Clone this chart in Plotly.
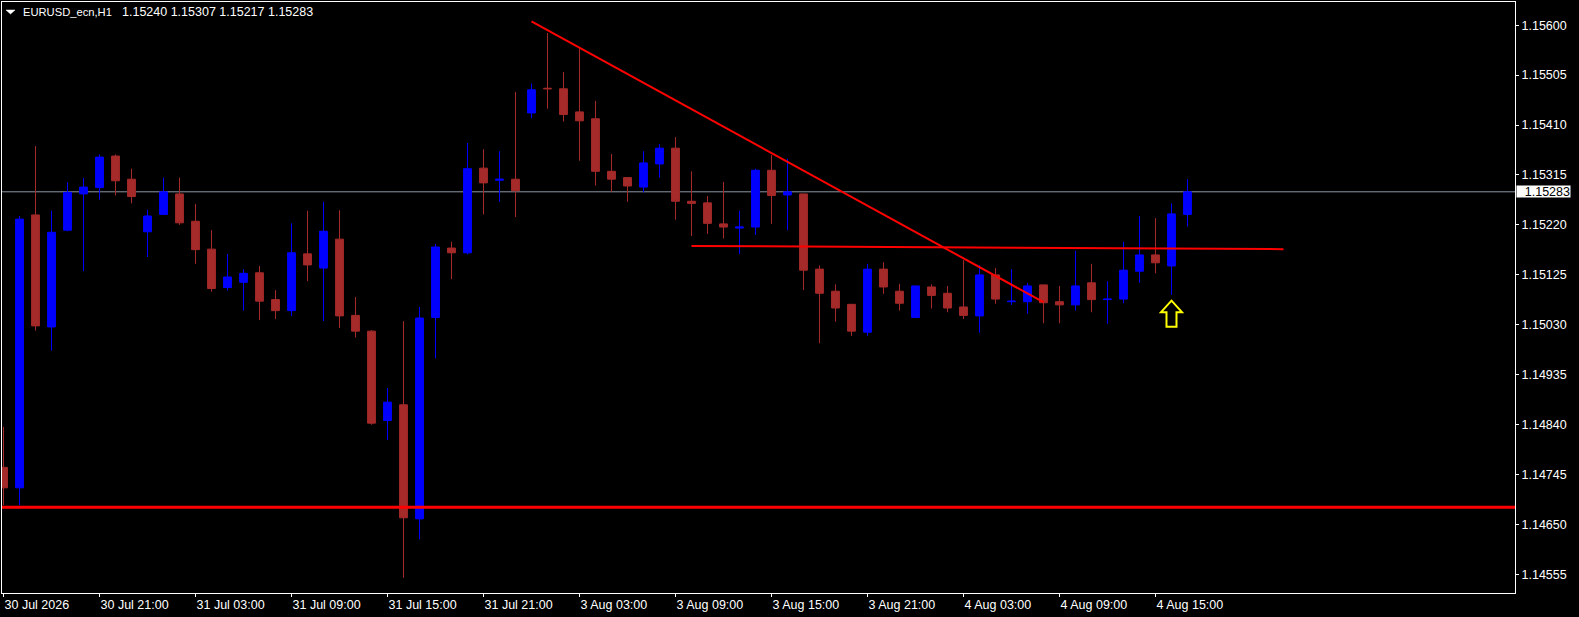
import plotly.graph_objects as go

# ---- data (EURUSD_ecn, H1) ----
opens = [1.14759, 1.14720, 1.15239, 1.15026, 1.15210, 1.15279, 1.15291, 1.15351, 1.15307, 1.15207,
         1.15240, 1.15279, 1.15227, 1.15174, 1.15101, 1.15111, 1.15129, 1.15078, 1.15057, 1.15165,
         1.15138, 1.15193, 1.15048, 1.15018, 1.14848, 1.14878, 1.14661, 1.15044, 1.15176, 1.15167,
         1.15328, 1.15305, 1.15307, 1.15433, 1.15480, 1.15479, 1.15435, 1.15422, 1.15322, 1.15310,
         1.15292, 1.15336, 1.15366, 1.15265, 1.15262, 1.15222, 1.15214, 1.15216, 1.15324, 1.15277,
         1.15279, 1.15136, 1.15094, 1.15069, 1.15016, 1.15136, 1.15094, 1.15044, 1.15102, 1.15090,
         1.15064, 1.15047, 1.15125, 1.15074, 1.15074, 1.15106, 1.15074, 1.15068, 1.15110, 1.15078,
         1.15079, 1.15132, 1.15163, 1.15142, 1.15240]
highs = [1.14836, 1.15237, 1.15370, 1.15247, 1.15301, 1.15309, 1.15354, 1.15354, 1.15327, 1.15249,
         1.15310, 1.15310, 1.15260, 1.15210, 1.15165, 1.15136, 1.15142, 1.15096, 1.15223, 1.15247,
         1.15264, 1.15248, 1.15083, 1.15020, 1.14910, 1.15037, 1.15064, 1.15184, 1.15188, 1.15376,
         1.15364, 1.15360, 1.15473, 1.15489, 1.15585, 1.15511, 1.15557, 1.15456, 1.15355, 1.15311,
         1.15360, 1.15374, 1.15387, 1.15322, 1.15275, 1.15302, 1.15247, 1.15327, 1.15353, 1.15346,
         1.15279, 1.15143, 1.15107, 1.15069, 1.15146, 1.15149, 1.15108, 1.15104, 1.15107, 1.15104,
         1.15153, 1.15144, 1.15138, 1.15136, 1.15110, 1.15106, 1.15104, 1.15171, 1.15146, 1.15113,
         1.15188, 1.15237, 1.15233, 1.15261, 1.15307]
lows = [1.14687, 1.14687, 1.15019, 1.14981, 1.15208, 1.15132, 1.15268, 1.15276, 1.15261, 1.15159,
        1.15240, 1.15220, 1.15146, 1.15093, 1.15095, 1.15057, 1.15039, 1.15041, 1.15047, 1.15113,
        1.15037, 1.15024, 1.15006, 1.14840, 1.14811, 1.14549, 1.14622, 1.14966, 1.15117, 1.15164,
        1.15240, 1.15264, 1.15235, 1.15423, 1.15441, 1.15417, 1.15342, 1.15295, 1.15283, 1.15264,
        1.15282, 1.15310, 1.15230, 1.15199, 1.15203, 1.15194, 1.15165, 1.15201, 1.15222, 1.15210,
        1.15096, 1.14995, 1.15036, 1.15009, 1.15009, 1.15089, 1.15057, 1.15044, 1.15061, 1.15054,
        1.15041, 1.15015, 1.15070, 1.15068, 1.15051, 1.15033, 1.15033, 1.15057, 1.15054, 1.15032,
        1.15071, 1.15110, 1.15128, 1.15087, 1.15217]
closes = [1.14720, 1.15231, 1.15028, 1.15206, 1.15282, 1.15292, 1.15349, 1.15304, 1.15274, 1.15237,
          1.15283, 1.15224, 1.15173, 1.15099, 1.15121, 1.15128, 1.15075, 1.15057, 1.15167, 1.15144,
          1.15208, 1.15047, 1.15018, 1.14843, 1.14883, 1.14663, 1.15043, 1.15178, 1.15167, 1.15327,
          1.15300, 1.15307, 1.15285, 1.15477, 1.15479, 1.15430, 1.15418, 1.15322, 1.15307, 1.15294,
          1.15338, 1.15366, 1.15265, 1.15261, 1.15223, 1.15216, 1.15216, 1.15324, 1.15276, 1.15283,
          1.15134, 1.15090, 1.15062, 1.15018, 1.15136, 1.15102, 1.15071, 1.15104, 1.15086, 1.15062,
          1.15048, 1.15125, 1.15079, 1.15075, 1.15104, 1.15072, 1.15068, 1.15104, 1.15078, 1.15079,
          1.15134, 1.15163, 1.15148, 1.15241, 1.15283]

time_labels = ["30 Jul 2026", "30 Jul 21:00", "31 Jul 03:00", "31 Jul 09:00", "31 Jul 15:00",
               "31 Jul 21:00", "3 Aug 03:00", "3 Aug 09:00", "3 Aug 15:00", "3 Aug 21:00",
               "4 Aug 03:00", "4 Aug 09:00", "4 Aug 15:00"]
label_bars = [0, 6, 12, 18, 24, 30, 36, 42, 48, 54, 60, 66, 72]

price_ticks = [1.15600, 1.15505, 1.15410, 1.15315, 1.15220, 1.15125, 1.15030,
               1.14935, 1.14840, 1.14745, 1.14650, 1.14555]

# drawn objects
trend_bars = [33, 65]
trend_prices = [1.15607, 1.15073]
resist_bars = [43, 80]
resist_prices = [1.15180, 1.15174]
support_price = 1.14683
arrow_bar = 73
arrow_price = 1.15076

symbol = "EURUSD_ecn,H1"

x = list(range(len(opens)))
BULL = "#0000FF"
BEAR = "#A52A2A"
FONT = "Liberation Sans"

fig = go.Figure()
fig.add_trace(go.Candlestick(
    x=x, open=opens, high=highs, low=lows, close=closes,
    increasing=dict(line=dict(color=BULL, width=1), fillcolor=BULL),
    decreasing=dict(line=dict(color=BEAR, width=1), fillcolor=BEAR),
    whiskerwidth=0, hoverinfo="skip", showlegend=False,
))
fig.add_trace(go.Scatter(x=trend_bars, y=trend_prices, mode="lines",
                         line=dict(color="#FF0000", width=2), showlegend=False, hoverinfo="skip"))
fig.add_trace(go.Scatter(x=resist_bars, y=resist_prices, mode="lines",
                         line=dict(color="#FF0000", width=2), showlegend=False, hoverinfo="skip"))

shapes = [
    dict(type="line", xref="paper", x0=0, x1=1, yref="y", y0=closes[-1], y1=closes[-1],
         line=dict(color="#8a96a4", width=1), layer="below"),
    dict(type="line", xref="paper", x0=0, x1=1, yref="y", y0=support_price, y1=support_price,
         line=dict(color="#FF0000", width=3)),
    # hollow up arrow (pixel-sized, anchored at bar/price)
    dict(type="path", xref="x", yref="y", xsizemode="pixel", ysizemode="pixel",
         xanchor=arrow_bar, yanchor=arrow_price,
         path="M 0,0 L 10.5,-11.5 L 5,-11.5 L 5,-26 L -5,-26 L -5,-11.5 L -10.5,-11.5 Z",
         line=dict(color="#FFFF00", width=2), fillcolor="rgba(0,0,0,0)"),
    # small menu triangle at top-left
    dict(type="path", xref="paper", yref="paper", xsizemode="pixel", ysizemode="pixel",
         xanchor=0, yanchor=1,
         path="M 4,-8 L 13,-8 L 8.5,-12 Z",
         line=dict(color="#FFFFFF", width=0.5), fillcolor="#FFFFFF"),
]

ohlc_text = f"{opens[-1]:.5f} {highs[-1]:.5f} {lows[-1]:.5f} {closes[-1]:.5f}"
annotations = [
    dict(text=symbol, xref="paper", yref="paper", x=0, y=1, xanchor="left", yanchor="middle",
         xshift=19, yshift=-10, showarrow=False,
         font=dict(family=FONT, size=11.2, color="#FFFFFF")),
    dict(text=ohlc_text, xref="paper", yref="paper", x=0, y=1, xanchor="left", yanchor="middle",
         xshift=118, yshift=-10, showarrow=False,
         font=dict(family=FONT, size=12.5, color="#FFFFFF")),
    dict(text=f"{closes[-1]:.5f}", xref="paper", yref="y", x=1, y=closes[-1],
         xanchor="left", yanchor="middle", xshift=1, showarrow=False,
         bgcolor="#FFFFFF", borderpad=0, width=53, height=11, align="right",
         font=dict(family=FONT, size=12.5, color="#000000")),
]

fig.update_layout(
    width=1579, height=617,
    margin=dict(l=2, r=64, t=2, b=24),
    paper_bgcolor="#000000", plot_bgcolor="#000000",
    shapes=shapes, annotations=annotations,
    showlegend=False,
    xaxis=dict(
        range=[-0.094, 94.47], showgrid=False, zeroline=False,
        tickmode="array", tickvals=label_bars, ticktext=time_labels,
        ticks="outside", ticklen=3, tickcolor="#FFFFFF",
        ticklabelposition="outside right",
        showline=True, mirror=True, linecolor="#FFFFFF", linewidth=1,
        tickfont=dict(family=FONT, size=12.5, color="#FFFFFF"),
        rangeslider=dict(visible=False), fixedrange=True,
    ),
    yaxis=dict(
        side="right", range=[1.14520, 1.15644], showgrid=False, zeroline=False,
        tickmode="array", tickvals=price_ticks, ticktext=[f"{p:.5f}" for p in price_ticks],
        ticks="outside", ticklen=3, tickcolor="#FFFFFF",
        showline=True, mirror=True, linecolor="#FFFFFF", linewidth=1,
        tickfont=dict(family=FONT, size=12.5, color="#FFFFFF"),
        fixedrange=True,
    ),
    boxgap=0.3,
)

fig.write_html("out.html", config={"displayModeBar": False},
               post_script="document.body.style.margin='0';document.body.style.overflow='hidden';")
